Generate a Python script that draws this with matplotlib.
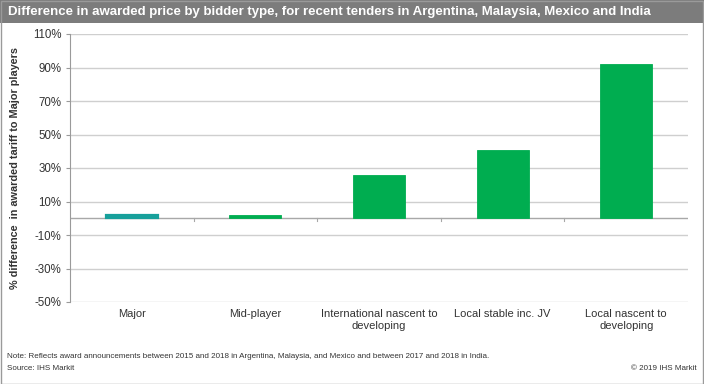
import matplotlib
matplotlib.use("Agg")
import matplotlib.pyplot as plt
from matplotlib.patches import Rectangle
from matplotlib import font_manager

categories = ["Major", "Mid-player", "International nascent to\ndeveloping",
              "Local stable inc. JV", "Local nascent to\ndeveloping"]
values = [1.8, 2.0, 26.0, 41.0, 92.0]
bar_colors = ["#17a09b", "#00ad50", "#00ad50", "#00ad50", "#00ad50"]
yticks = [-50, -30, -10, 10, 30, 50, 70, 90, 110]
ytick_labels = [f"{v}%" for v in yticks]

title = "Difference in awarded price by bidder type, for recent tenders in Argentina, Malaysia, Mexico and India"
ylabel = "% difference  in awarded tariff to Major players"
note = "Note: Reflects award announcements between 2015 and 2018 in Argentina, Malaysia, and Mexico and between 2017 and 2018 in India."
source = "Source: IHS Markit"
copyright_ = "\u00a9 2019 IHS Markit"

plt.rcParams['font.family'] = ['Liberation Sans', 'DejaVu Sans']
avail = {f.name for f in font_manager.fontManager.ttflist}
narrow = ['Liberation Sans Narrow', 'Liberation Sans'] if 'Liberation Sans Narrow' in avail else ['Liberation Sans']

fig = plt.figure(figsize=(7.04, 3.84), dpi=100)
fig.patch.set_facecolor("white")
renderer = fig.canvas.get_renderer()

def fit_text(t, target_px, size):
    fig.canvas.draw()
    w = t.get_window_extent(renderer).width
    if w > 0:
        t.set_fontsize(size * target_px / w)

# header bar
fig.patches.append(Rectangle((0, 1 - 23/384), 1, 23/384, transform=fig.transFigure,
                             facecolor="#7c7c7c", edgecolor="none", zorder=0))
# frame
fig.patches.append(Rectangle((0.5/704, 0.5/384), 1 - 1.5/704, 1 - 1.5/384, transform=fig.transFigure,
                             facecolor="none", edgecolor="#9a9a9a", linewidth=1, zorder=5))
tt = fig.text(8/704, 1 - 11.5/384, title, color="white", fontsize=10.5, fontweight="bold",
              va="center", ha="left", family=narrow)
fit_text(tt, 648, 10.5)

ax = fig.add_axes([70/704, 1 - 302/384, 618/704, 268/384])
x = list(range(len(categories)))
lws = [1.6, 0.6, 0.6, 0.6, 0.6]
ax.bar(x, values, width=0.42, color=bar_colors, zorder=3,
       edgecolor=bar_colors, linewidth=lws)
ax.set_xlim(-0.5, len(categories) - 0.5)
ax.set_ylim(-50, 110)
ax.set_yticks(yticks)
ax.set_yticklabels(ytick_labels, fontsize=8.3, color="#333333")
ax.tick_params(axis="y", length=3, width=0.8, color="#9a9a9a", pad=3)
ax.grid(axis="y", color="#cfcfcf", linewidth=1, zorder=1)
ax.set_axisbelow(True)
for s in ["top", "right", "bottom"]:
    ax.spines[s].set_visible(False)
ax.spines["left"].set_color("#9a9a9a")
ax.spines["left"].set_linewidth(0.8)

# zero line with category boundary ticks
ax.axhline(0, color="#a8a8a8", linewidth=1, zorder=2)
ax.set_xticks([])
for b in [i + 0.5 for i in range(len(categories) - 1)]:
    ax.plot([b, b], [0, -1.5], color="#a8a8a8", linewidth=0.8, zorder=2)

for i, c in enumerate(categories):
    ax.text(i, -0.025, c, transform=ax.get_xaxis_transform(), ha="center", va="top",
            fontsize=8, color="#333333", linespacing=1.25)

ax.set_ylabel(ylabel, fontsize=7.8, fontweight="bold", color="#333333")
ax.yaxis.set_label_coords(-50/618, 0.5)

nt = fig.text(7/704, 1 - 356/384, note, fontsize=6.3, color="#333333", va="center", ha="left",
              family=narrow)
fit_text(nt, 485, 6.3)
fs = nt.get_fontsize()
fig.text(7/704, 1 - 368/384, source, fontsize=fs, color="#333333", va="center", ha="left",
         family=narrow)
fig.text(697/704, 1 - 368/384, copyright_, fontsize=fs, color="#333333", va="center", ha="right",
         family=narrow)

fig.savefig("out.png", dpi=100)
